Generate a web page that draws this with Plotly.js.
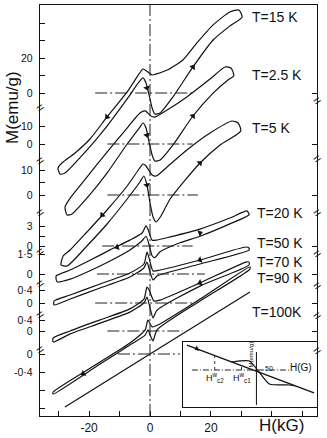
<!DOCTYPE html>
<html>
<head>
<meta charset="utf-8">
<script src="https://cdn.plot.ly/plotly-3.0.1.min.js"></script>
<style>
html, body { margin: 0; padding: 0; background: #fff; }
#plot { width: 327px; height: 438px; }
</style>
</head>
<body>
<div id="plot"></div>
<script>
// loops: field H (kG) and magnetisation M (emu/g),
// going round each loop (upper branch right->left, then lower branch back)
var h15 = [30.2, 29.2, 26.2, 20.7, 15.4, 10.8, 5.6, 1.6, 0.7, -0.7, -2.3, -3.6, -7.5, -14.1, -19.7, -24.6, -28.9, -30.2,
           -29.5, -27.9, -20.7, -14.1, -7.5, -3.6, -2.3, -1.3, -0.3, 0.7, 1.6, 3.3, 7.5, 14.1, 20.7, 26.2, 30.2];
var m15 = [43.4, 47.4, 46.3, 38.9, 28.6, 18.9, 13.1, 10.6, 10.3, 12.0, 13.7, 10.9, 0.6, -13.7, -26.3, -34.3, -40.0, -42.9,
           -46.3, -45.7, -32.6, -18.9, -3.4, 6.3, 8.6, 5.7, -1.1, -8.6, -12.0, -11.4, -2.3, 14.9, 30.3, 38.3, 43.4];

var h25 = [27.5, 26.6, 24.6, 19.7, 12.1, 5.6, 1.6, 0.3, -1.6, -3.3, -7.5, -14.1, -20.7, -26.2, -27.9,
           -27.2, -25.6, -20.7, -14.1, -7.5, -3.3, -2.3, -1.3, -0.3, 0.7, 1.6, 3.3, 7.5, 14.1, 20.7, 25.6, 27.5];
var m25 = [38.9, 43.4, 44.0, 37.1, 26.9, 19.4, 15.4, 16.0, 18.9, 17.7, 9.1, -4.6, -18.9, -30.9, -36.0,
           -40.6, -40.0, -30.9, -16.6, 0.0, 9.7, 12.0, 9.1, 1.1, -6.3, -9.7, -9.1, -0.6, 16.0, 29.1, 36.6, 38.9];

var h5 = [29.8, 28.9, 26.9, 19.7, 12.1, 5.6, 2.0, 0.7, -1.3, -2.3, -3.6, -7.5, -14.1, -20.7, -26.2, -28.5,
          -29.2, -27.2, -20.7, -14.1, -7.5, -3.3, -2.0, -1.0, 0.0, 1.0, 2.0, 3.6, 6.6, 16.4, 23.0, 29.8];
var m5 = [25.6, 28.8, 29.6, 24.8, 18.0, 11.2, 7.6, 8.0, 11.6, 12.4, 10.4, 3.6, -6.0, -14.8, -22.0, -24.4,
          -28.0, -28.4, -20.4, -11.6, -1.6, 5.2, 7.6, 4.0, -3.2, -8.8, -10.8, -8.4, -1.6, 12.8, 20.0, 25.6];

var h20 = [32.5, 31.8, 26.2, 16.4, 6.6, 2.0, 0.7, -0.7, -1.3, -2.6, -6.6, -13.1, -19.7, -26.2, -30.8,
           -30.5, -26.2, -19.7, -13.1, -6.6, -2.6, -1.3, -0.3, 0.7, 1.6, 3.3, 9.8, 16.4, 26.2, 32.5];
var m20 = [4.8, 5.4, 4.3, 2.6, 1.4, 0.9, 0.9, 2.6, 3.1, 2.0, 0.9, -0.6, -2.2, -3.7, -4.6,
           -5.5, -5.1, -3.8, -2.3, -0.6, 0.8, 1.5, 0.2, -1.5, -1.8, -0.9, 0.5, 1.5, 3.4, 4.8];

var h50 = [32.5, 31.5, 16.4, 3.3, 1.0, -0.3, -1.0, -2.0, -6.6, -16.4, -26.2, -31.5,
           -31.5, -26.2, -16.4, -6.6, -2.0, -1.0, 0.0, 1.0, 2.3, 16.4, 32.5, 32.5];
var m50 = [1.95, 2.03, 1.05, 0.30, 0.23, 1.20, 1.65, 0.75, 0.08, -0.75, -1.58, -2.03,
           -2.33, -1.88, -1.05, -0.23, 0.45, 0.90, 0.15, -0.45, -0.15, 0.75, 1.80, 1.95];

var h70 = [32.5, 31.5, 16.4, 3.3, 1.3, -0.3, -1.0, -2.0, -6.6, -16.4, -26.2, -31.8,
           -31.8, -26.2, -16.4, -6.6, -2.0, -1.0, 0.0, 1.0, 2.3, 16.4, 32.5, 32.5];
var m70 = [1.26, 1.26, 0.62, 0.09, 0.06, 0.40, 0.49, 0.12, -0.18, -0.52, -0.86, -1.08,
           -1.20, -0.95, -0.62, -0.28, 0.00, 0.18, -0.15, -0.46, -0.22, 0.52, 1.17, 1.26];

var h90 = [32.8, 16.4, 2.6, 0.7, -0.7, -1.6, -6.6, -16.4, -31.8,
           -31.8, -16.4, -6.6, -1.6, -0.7, 0.3, 1.0, 2.3, 16.4, 32.8, 32.8];
var m90 = [2.33, 1.16, 0.22, 0.15, 0.40, 0.04, -0.44, -1.13, -2.22,
           -2.29, -1.20, -0.51, -0.15, 0.04, -0.22, -0.36, 0.04, 1.09, 2.25, 2.33];

var h100 = [-27.9, 0, 32.8];
var m100 = [-1.18, 0, 1.38];

var temps = ['T=15 K', 'T=2.5 K', 'T=5 K', 'T=20 K', 'T=50 K', 'T=70 K', 'T=90 K', 'T=100K'];
var loopH = [h15, h25, h5, h20, h50, h70, h90, h100];
var loopM = [m15, m25, m5, m20, m50, m70, m90, m100];

// sweep-direction arrows: loop index, H, M, pointing angle
var arrowLoop = [0, 0, 0, 1, 1, 2, 2, 2, 3, 3, 4, 5, 6];
var arrowH = [-14.1, 14.1, -1.0, 14.1, -1.0, 16.4, -1.0, -15.7, 16.4, -10.8, 16.4, 16.4, -21.9];
var arrowM = [-13.7, 14.9, 2.9, 16.0, 5.1, 12.8, 4.0, -8.0, 2.0, -0.2, 1.05, 0.62, -1.55];
var arrowAng = [220, 35, 165, 38, 165, 45, 165, 222, 70, 250, 250, 250, 238];

// M-axis ticks for each broken section
var tickM = [[0, 10, 20, 30, 40], [0, 10], [0, 5, 10], [0, 1.5, 3], [0, 1.5], [0, 0.4], [0, 0.4], [0, -0.4, -0.8, -1.2]];
var tickLab = [['0', '', '20', '', ''], ['0', '10'], ['0', '', '10'], ['0', '', '3'], ['0', '1·5'], ['0', '0·4'], ['0', '0·4'], ['0', '-0·4', '', '']];

// inset sketch (arbitrary units)
var insH = [-70, 58];
var insM = [25, -23];
var insStepH = [-25, -7, 13, 33, 39];
var insStepM = [8, 9, -14, -15, -16];
var hc2 = -42, hc1 = -15;

// ---- layout of the stacked sections (plot units = px from bottom) ----
var base = [323, 272, 221, 170, 142, 113, 85, 62];
var gain = [1.75, 1.75, 2.5, 6.5, 13.3, 32.5, 27.5, 45];
var zeroFrom = [-18, -14, -14, -15.7, -17.4, -18, -14, -10.5];
var zeroTo = [14, 14, 15.7, 14, 18, 14, 10.8, 9.8];
var labelX = [32.8, 32.8, 32.8, 34.4, 34.4, 34.4, 34.4, 32.8];
var labelY = [399, 341, 288, 203, 173, 154, 138, 104];
var breaksL = [309, 256, 204, 165, 133, 102, 67];
var breaksR = [316, 258, 204, 163, 131, 101, 66];

var txt = 'Liberation Sans, Arial, sans-serif';
var dashdot = '12px,3px,2px,3px';
var traces = [];
var annotations = [];
var yVals = [], yText = [];

for (var i = 0; i < loopH.length; i++) {
  var b = base[i], g = gain[i];
  traces.push({
    x: loopH[i], y: loopM[i].map(function (m) { return b + g * m; }),
    mode: 'lines', line: {color: '#111', width: 1.2, shape: 'spline', smoothing: 0.6},
    hoverinfo: 'skip', showlegend: false
  });
  traces.push({
    x: [zeroFrom[i], zeroTo[i]], y: [b, b],
    mode: 'lines', line: {color: '#222', width: 1, dash: dashdot},
    hoverinfo: 'skip', showlegend: false
  });
  tickM[i].forEach(function (t, k) {
    yVals.push(b + g * t);
    yText.push(tickLab[i][k]);
  });
  annotations.push({
    x: labelX[i], y: labelY[i], xref: 'x', yref: 'y', text: temps[i],
    xanchor: 'left', yanchor: 'middle', showarrow: false,
    font: {family: txt, size: 14, color: '#111'}
  });
}

traces.push({
  x: arrowH,
  y: arrowM.map(function (m, k) { return base[arrowLoop[k]] + gain[arrowLoop[k]] * m; }),
  mode: 'markers', hoverinfo: 'skip', showlegend: false,
  marker: {symbol: 'triangle-up', size: 6, color: '#111', angle: arrowAng}
});

breaksL.forEach(function (y) {
  annotations.push({x: 0, y: y, xref: 'paper', yref: 'y', text: '=', textangle: -35,
    xanchor: 'center', yanchor: 'middle', showarrow: false, font: {size: 13, color: '#111'}});
});
breaksR.forEach(function (y) {
  annotations.push({x: 1, y: y, xref: 'paper', yref: 'y', text: '=', textangle: -35,
    xanchor: 'center', yanchor: 'middle', showarrow: false, font: {size: 13, color: '#111'}});
});

// axis titles
annotations.push({x: -0.101, y: 308, xref: 'paper', yref: 'y', text: 'M(emu/g)', textangle: -90,
  xanchor: 'center', yanchor: 'middle', showarrow: false, font: {family: txt, size: 17, color: '#111'}});
annotations.push({x: 0.871, y: -0.024, xref: 'paper', yref: 'paper', text: 'H(kG)',
  xanchor: 'center', yanchor: 'middle', showarrow: false, font: {family: txt, size: 17, color: '#111'}});

// inset traces
traces.push({x: insH, y: insM, xaxis: 'x2', yaxis: 'y2', mode: 'lines',
  line: {color: '#111', width: 1.3}, hoverinfo: 'skip', showlegend: false});
traces.push({x: insStepH, y: insStepM, xaxis: 'x2', yaxis: 'y2', mode: 'lines',
  line: {color: '#111', width: 1.2, shape: 'spline', smoothing: 0.5}, hoverinfo: 'skip', showlegend: false});
traces.push({x: [-65, 35], y: [0, 0], xaxis: 'x2', yaxis: 'y2', mode: 'lines',
  line: {color: '#222', width: 1, dash: '6px,2px,1px,2px'}, hoverinfo: 'skip', showlegend: false});
traces.push({x: [0, 0], y: [-35, 18], xaxis: 'x2', yaxis: 'y2', mode: 'lines',
  line: {color: '#111', width: 1}, hoverinfo: 'skip', showlegend: false});
traces.push({x: [hc2, hc2], y: [0, 14.5], xaxis: 'x2', yaxis: 'y2', mode: 'lines',
  line: {color: '#333', width: 1, dash: 'dot'}, hoverinfo: 'skip', showlegend: false});
traces.push({x: [hc1, hc1], y: [0, 6], xaxis: 'x2', yaxis: 'y2', mode: 'lines',
  line: {color: '#333', width: 1, dash: 'dot'}, hoverinfo: 'skip', showlegend: false});
traces.push({x: [-60], y: [21.3], xaxis: 'x2', yaxis: 'y2', mode: 'markers', hoverinfo: 'skip', showlegend: false,
  marker: {symbol: 'triangle-up', size: 5, color: '#111', angle: -111}});

var small = {family: txt, size: 9, color: '#111'};
annotations.push({x: hc2, y: -8, xref: 'x2', yref: 'y2', text: 'H<sup>w</sup><sub>c2</sub>', showarrow: false, font: small});
annotations.push({x: hc1, y: -8, xref: 'x2', yref: 'y2', text: 'H<sup>w</sup><sub>c1</sub>', showarrow: false, font: small});
annotations.push({x: 45, y: 3, xref: 'x2', yref: 'y2', text: 'H(G)', showarrow: false,
  font: {family: txt, size: 10, color: '#111'}});
annotations.push({x: 13, y: 2, xref: 'x2', yref: 'y2', text: '50', showarrow: false,
  font: {family: txt, size: 7, color: '#111'}});
annotations.push({x: -5, y: 16, xref: 'x2', yref: 'y2', text: 'M(emu/g)', textangle: -90, showarrow: false,
  font: {family: txt, size: 6, color: '#111'}});

var layout = {
  width: 327, height: 438,
  margin: {l: 40, r: 10, t: 5, b: 22},
  paper_bgcolor: '#fff', plot_bgcolor: '#fff',
  showlegend: false,
  font: {family: txt, size: 10.5, color: '#111'},
  xaxis: {
    range: [-36.1, 54.8], showgrid: false, zeroline: false,
    showline: true, linecolor: '#111', linewidth: 1.3, mirror: true,
    ticks: 'inside', ticklen: 5, tickcolor: '#111',
    tickvals: [-30, -20, -10, 0, 10, 20, 30, 40, 50],
    ticktext: ['', '-20', '', '0', '', '20', '', '', ''],
    tickfont: {size: 12}
  },
  yaxis: {
    range: [0, 411], showgrid: false, zeroline: false,
    showline: true, linecolor: '#111', linewidth: 1.3, mirror: true,
    ticks: 'inside', ticklen: 5, tickcolor: '#111',
    tickvals: yVals, ticktext: yText, ticklabelstandoff: 4
  },
  yaxis3: {
    range: [0, 411], overlaying: 'y', side: 'right', showgrid: false, zeroline: false,
    showline: false, ticks: 'inside', ticklen: 5, tickcolor: '#111',
    tickvals: base, showticklabels: false
  },
  xaxis2: {
    domain: [0.516, 1.0], anchor: 'y2', range: [-74, 61],
    showgrid: false, zeroline: false, showline: true, mirror: true,
    linecolor: '#111', linewidth: 1.2, ticks: '', showticklabels: false
  },
  yaxis2: {
    domain: [0.022, 0.18], anchor: 'x2', range: [-37, 28],
    showgrid: false, zeroline: false, showline: true, mirror: true,
    linecolor: '#111', linewidth: 1.2, ticks: '', showticklabels: false
  },
  shapes: [{
    type: 'line', xref: 'x', yref: 'paper', x0: 0, x1: 0, y0: 0, y1: 1,
    line: {color: '#222', width: 1, dash: dashdot}
  }],
  annotations: annotations
};

// invisible trace so the right-hand tick axis is drawn
traces.push({x: [0], y: [0], yaxis: 'y3', mode: 'markers', marker: {opacity: 0}, hoverinfo: 'skip', showlegend: false});

Plotly.newPlot('plot', traces, layout, {staticPlot: true, displayModeBar: false});
</script>
</body>
</html>
